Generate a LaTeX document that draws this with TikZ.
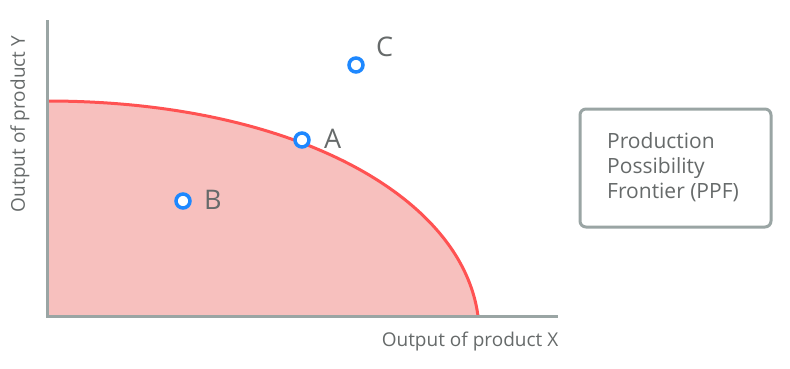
\documentclass[tikz,border=0pt]{standalone}
\usepackage{fontspec}
\setmainfont{Open Sans}
\definecolor{axisgray}{HTML}{9AA5A4}
\definecolor{txtgray}{HTML}{666A6A}
\definecolor{ppfred}{HTML}{FF5252}
\definecolor{ppffill}{HTML}{F7C0BE}
\definecolor{ptblue}{HTML}{1E88FF}
\tikzset{
  axisline/.style={draw=axisgray, line width=3pt},
  pt/.style={circle, draw=ptblue, fill=white, line width=3.5pt, minimum size=14pt, inner sep=0pt},
  ptlabel/.style={text=txtgray, font=\fontsize{27}{32}\selectfont, inner sep=0pt, anchor=west},
  axlabel/.style={text=txtgray, font=\fontsize{19}{22}\selectfont, inner sep=0pt},
  legendbox/.style={draw=axisgray, line width=3pt, rounded corners=6pt, fill=white}
}
\begin{document}
\begin{tikzpicture}[x=1pt,y=1pt]
\useasboundingbox (0,0) rectangle (790,368);
% region
\fill[ppffill] (47,267) .. controls (290,267) and (462,173) .. (478,52) -- (47,52) -- cycle;
\draw[ppfred, line width=3pt] (47,267) .. controls (290,267) and (462,173) .. (478,52);
% axes
\coordinate (ytop) at (47,348);
\coordinate (orig) at (47,52);
\coordinate (xend) at (558,52);
\draw[axisline] (ytop) -- (orig) -- (xend);
% labels of axes
\node[axlabel, rotate=90] (ylab) at (20,244) {Output of product Y};
\node[axlabel] (xlab) at (470,26) {Output of product X};
% points
\node[pt] (A) at (302,228) {};
\node[pt] (B) at (183,167) {};
\node[pt] (C) at (356,303) {};
\node[ptlabel] (lA) at (324,229) {A};
\node[ptlabel] (lB) at (204,168) {B};
\node[ptlabel] (lC) at (376,321) {C};
% legend box
\draw[legendbox] (580,259) rectangle (771,141);
\node[text=txtgray, font=\fontsize{21}{25}\selectfont, align=left, anchor=north west, inner sep=0pt] (legend) at (607,236) {Production\\Possibility\\Frontier (PPF)};
\end{tikzpicture}
\end{document}
